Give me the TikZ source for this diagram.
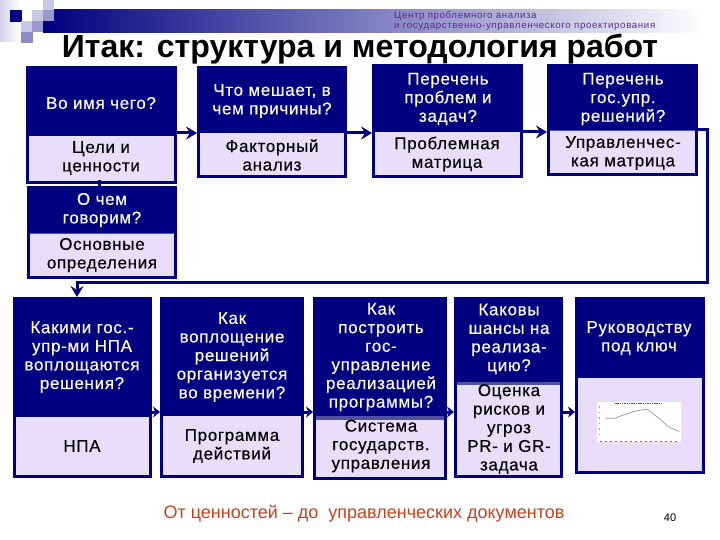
\documentclass[tikz,border=0pt]{standalone}
\usepackage{fontspec}
\setmainfont{Liberation Sans}
\usetikzlibrary{arrows.meta}
\definecolor{navy}{RGB}{0,0,128}
\definecolor{lilac}{RGB}{232,222,250}
\definecolor{stripc}{RGB}{80,80,160}
\definecolor{sqa}{RGB}{200,200,228}
\definecolor{sqb}{RGB}{152,152,204}
\definecolor{sqc}{RGB}{140,140,196}
\definecolor{headc}{RGB}{90,40,150}
\definecolor{redc}{RGB}{200,64,26}
\newcommand{\bxrect}[6]{% name x0 y0 x1 y1 style
  \node[#6,minimum width={(#4-(#2))*1pt},minimum height={(#5-(#3))*1pt}] (#1) at ({(#2+#4)/2},{(#3+#5)/2}) {};}
\newcommand{\panel}[7]{% name x0 y0 x1 y1 ysplit stripwidth
  \bxrect{#1}{#2}{#3}{#4}{#5}{outerbox}
  \bxrect{#1p}{#2+3}{#6}{#4-3}{#5-3}{innerbox}
  \ifdim#7pt>0pt
    \bxrect{#1s}{#2+3}{#6-#7}{#4-3}{#6}{stripbox}
  \fi}
\tikzset{
  x=1pt,y=-1pt,
  outerbox/.style={fill=navy,draw=none,inner sep=0pt,outer sep=0pt},
  innerbox/.style={fill=lilac,draw=none,inner sep=0pt,outer sep=0pt},
  stripbox/.style={fill=stripc,draw=none,inner sep=0pt,outer sep=0pt},
  wtxt/.style={text=white,align=center,font=\fontsize{17}{18.6}\selectfont\addfontfeature{LetterSpace=4,FakeBold=0.25},inner sep=0pt},
  btxt/.style={text=black,align=center,font=\fontsize{17}{18.6}\selectfont\addfontfeature{LetterSpace=4,FakeBold=0.25},inner sep=0pt},
  link/.style={draw=navy,line width=3pt},
  linkarrow/.style={link,-{Stealth[length=11pt,width=13pt,inset=4pt]}},
  tinyarrow/.style={draw=navy,line width=3pt,-{Stealth[length=7pt,width=11pt]}},
}
\begin{document}
\begin{tikzpicture}
\useasboundingbox (0,0) rectangle (720,540);
% header decoration
\shade[left color=navy,middle color=navy!45!white,right color=white] (43,10) rectangle (705,33);
\shade[left color=sqa!80!white,right color=white] (0,0) rectangle (20,42);
\fill[white] (20,0) rectangle (43,10);
\fill[navy] (10,10) rectangle (22,22);
\fill[sqa] (32,10) rectangle (43,21);
\fill[sqb] (43,10) rectangle (54,21);
\fill[sqa] (43,0) rectangle (54,10);
\fill[sqa] (21,21) rectangle (32,32);
\fill[sqb] (32,21) rectangle (43,32);
\fill[sqc] (21,32) rectangle (33,43);
% header text
\node[text=headc,anchor=west,align=left,inner sep=0pt,font=\fontsize{9.7}{10}\selectfont\addfontfeature{LetterSpace=6.5}] (hdr) at (394,21) {Центр проблемного анализа\\и государственно-управленческого проектирования};
\node[anchor=base,inner sep=0pt,font=\fontsize{32}{32}\selectfont\bfseries] (title) at (360,58) {Итак: структура и методология работ};
% boxes
\panel{aone}{26}{66}{177}{184}{136}{0}
\panel{atwo}{197}{66}{347}{178}{133}{0}
\panel{athree}{372}{64}{523}{178}{132}{0}
\panel{afour}{547}{64}{698}{176}{131}{1}
\panel{bone}{27}{186}{177}{279}{234}{1.5}
\panel{cone}{13}{297}{152}{478}{417}{0}
\panel{ctwo}{160}{297}{304}{478}{416}{0}
\panel{cthree}{313}{297}{447}{480}{420}{4}
\panel{cfour}{454}{297}{563}{478}{385}{3}
\panel{cfive}{575}{297}{705}{474}{378}{0}
% texts
\node[wtxt] (t1) at (101,103) {Во имя чего?};
\node[btxt] (t2) at (101,158) {Цели и\\ценности};
\node[wtxt] (t3) at (272,101) {Что мешает, в\\чем причины?};
\node[btxt] (t4) at (272,155) {Факторный\\анализ};
\node[wtxt] (t5) at (448,99) {Перечень\\проблем и\\задач?};
\node[btxt] (t6) at (447,154) {Проблемная\\матрица};
\node[wtxt] (t7) at (623,99) {Перечень\\гос.упр.\\решений?};
\node[btxt] (t8) at (623,153) {Управленчес-\\кая матрица};
\node[wtxt] (t9) at (102,210) {О чем\\говорим?};
\node[btxt] (t10) at (102,255) {Основные\\определения};
\node[wtxt] (t11) at (82,357) {Какими гос.-\\упр-ми НПА\\воплощаются\\решения?};
\node[btxt] (t12) at (82,446) {НПА};
\node[wtxt] (t13) at (232,357) {Как\\воплощение\\решений\\организуется\\во времени?};
\node[btxt] (t14) at (232,446) {Программа\\действий};
\node[wtxt] (t15) at (381,357) {Как\\построить\\гос-\\управление\\реализацией\\программы?};
\node[btxt] (t16) at (381,446) {Система\\государств.\\управления};
\node[wtxt] (t17) at (509,339) {Каковы\\шансы на\\реализа-\\цию?};
\node[btxt] (t18) at (509,429) {Оценка\\рисков и\\угроз\\PR- и GR-\\задача};
\node[wtxt] (t19) at (639,338) {Руководству\\под ключ};
\node[text=redc,anchor=base,inner sep=0pt,font=\fontsize{18}{18}\selectfont] (foot) at (364,518) {От ценностей – до\ \ управленческих документов};
\node[anchor=base,inner sep=0pt,font=\fontsize{11}{11}\selectfont] (pg) at (670,521) {40};
% connectors
\coordinate (bendone) at (707,130);
\coordinate (bendtwo) at (707,282);
\coordinate (bendthree) at (77,282);
\draw[linkarrow] (aone.east |- 0,133) -- (atwo.west |- 0,133);
\draw[linkarrow] (atwo.east |- 0,133) -- (athree.west |- 0,133);
\draw[linkarrow] (athree.east |- 0,132) -- (afour.west |- 0,132);
\draw[link,line join=miter] (afour.east |- bendone) -- (bendone) -- (bendtwo) -- (bendthree);
\draw[linkarrow] (bendthree) ++(0,-1.5) -- (cone.north -| bendthree);
\draw[link] (aone.south -| 99,0) ++(0,-4) -- (bone.north -| 99,0);
\draw[tinyarrow] (cone.east |- 0,412) -- (ctwo.west |- 0,412);
\draw[tinyarrow] (ctwo.east |- 0,412) -- (cthree.west |- 0,412);
\draw[tinyarrow] (cthree.east |- 0,412) -- (cfour.west |- 0,412);
\draw[tinyarrow] (cfour.east |- 0,412) -- (cfive.west |- 0,412);
% small chart
\fill[white] (597,402) rectangle (681,442);
\draw[black!65,line width=0.8pt,dash pattern=on 1.5pt off 0.8pt] (615,403) -- (662,403);
\draw[black!40,line width=0.7pt,line join=round] (605,418.3) -- (615,418.3) -- (623.3,415) -- (633.3,411.7) -- (646.7,409) -- (658.3,417.7) -- (668.3,426.7) -- (679.3,431.7);
\draw[black!55,line width=0.8pt,dash pattern=on 2pt off 3pt] (600,441) -- (680,441);
\draw[black!40,line width=0.8pt,dash pattern=on 1.5pt off 4pt] (599,406) -- (599,438);
\end{tikzpicture}
\end{document}
